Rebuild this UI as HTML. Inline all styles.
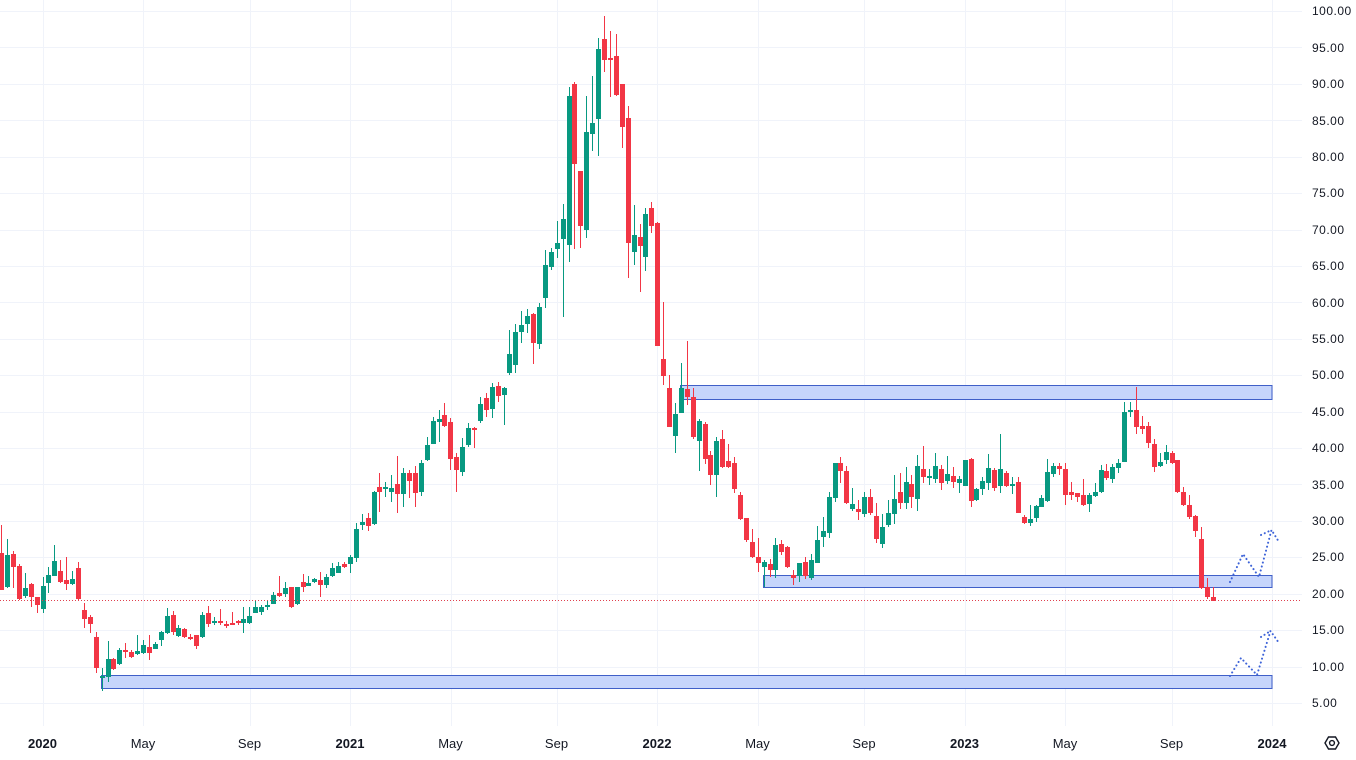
<!DOCTYPE html>
<html>
<head>
<meta charset="utf-8">
<style>
html,body{margin:0;padding:0;background:#ffffff;}
svg{display:block;}
.pl{font-family:"Liberation Sans",sans-serif;font-size:12px;letter-spacing:0.5px;fill:#131722;}
.tl{font-family:"Liberation Sans",sans-serif;font-size:13px;fill:#131722;}
.ty{font-family:"Liberation Sans",sans-serif;font-size:13px;font-weight:bold;fill:#131722;}
</style>
</head>
<body>
<svg id="c" width="1356" height="760" viewBox="0 0 1356 760" xmlns="http://www.w3.org/2000/svg">
<rect x="0" y="0" width="1356" height="760" fill="#ffffff"/>
<g id="grid" stroke="#f0f3fa" stroke-width="1" shape-rendering="crispEdges"></g>
<g fill="#c6d5fb" stroke="#3f5fc8" stroke-width="1" shape-rendering="crispEdges">
<rect x="101.5" y="675.5" width="1170.5" height="13"/>
<rect x="680.5" y="385.5" width="591.5" height="14"/>
<rect x="763.5" y="575.5" width="508.5" height="12"/>
</g>
<g id="candles" shape-rendering="crispEdges"></g>
<line x1="0" y1="600.5" x2="1302" y2="600.5" stroke="#e0404f" stroke-width="1" stroke-dasharray="1 2"/>
<g fill="none" stroke="#3d63d8" stroke-width="2" stroke-dasharray="0.1 4" stroke-linecap="round" stroke-linejoin="round">
<polyline points="1230,582 1243,554 1259,577 1271.5,530 1279,542"/>
<polyline points="1261,535 1271.5,530"/>
<polyline points="1230,676 1241,658 1257,675 1270.5,631 1279,643"/>
<polyline points="1261,637 1270.5,631"/>
</g>
<g class="pl">
<text x="1312" y="15">100.00</text>
<text x="1312" y="52">95.00</text>
<text x="1312" y="88">90.00</text>
<text x="1312" y="125">85.00</text>
<text x="1312" y="161">80.00</text>
<text x="1312" y="197">75.00</text>
<text x="1312" y="234">70.00</text>
<text x="1312" y="270">65.00</text>
<text x="1312" y="307">60.00</text>
<text x="1312" y="343">55.00</text>
<text x="1312" y="379">50.00</text>
<text x="1312" y="416">45.00</text>
<text x="1312" y="452">40.00</text>
<text x="1312" y="489">35.00</text>
<text x="1312" y="525">30.00</text>
<text x="1312" y="561">25.00</text>
<text x="1312" y="598">20.00</text>
<text x="1312" y="634">15.00</text>
<text x="1312" y="671">10.00</text>
<text x="1312" y="707">5.00</text>
</g>
<g text-anchor="middle">
<text class="ty" x="42.5" y="748">2020</text>
<text class="tl" x="143" y="748">May</text>
<text class="tl" x="249.5" y="748">Sep</text>
<text class="ty" x="350" y="748">2021</text>
<text class="tl" x="450.5" y="748">May</text>
<text class="tl" x="556.5" y="748">Sep</text>
<text class="ty" x="657" y="748">2022</text>
<text class="tl" x="757.5" y="748">May</text>
<text class="tl" x="864" y="748">Sep</text>
<text class="ty" x="964.5" y="748">2023</text>
<text class="tl" x="1065" y="748">May</text>
<text class="tl" x="1171.5" y="748">Sep</text>
<text class="ty" x="1272" y="748">2024</text>
</g>
<g fill="none" stroke="#131722" stroke-width="1.4">
<polygon points="1325,743 1328.5,737 1335.5,737 1339,743 1335.5,749 1328.5,749"/>
<circle cx="1332" cy="743" r="2.4"/>
</g>
</svg>
<script>
(function(){
var NS="http://www.w3.org/2000/svg";
var grid=document.getElementById("grid");
function ln(x1,y1,x2,y2){var l=document.createElementNS(NS,"line");l.setAttribute("x1",x1);l.setAttribute("y1",y1);l.setAttribute("x2",x2);l.setAttribute("y2",y2);grid.appendChild(l);}
for(var p=100;p>=5;p-=5){var y=Math.round(11+(100-p)*7.284)+0.5;ln(0,y,1302,y);}
var vx=[42.5,143,249.5,350,450.5,556.5,657,757.5,864,964.5,1065,1171.5,1272];
for(var i=0;i<vx.length;i++){var x=Math.round(vx[i])+0.5;ln(x,0,x,726);}
var D=[
[0,553,590,525,590],[1,555,587,539,588],[0,554,567,551,588],[0,566,599,564,600],[1,588,596,573,598],
[0,584,597,583,607],[0,597,605,597,613],[1,586,609,577,613],[1,575,583,567,593],[1,561,576,545,576],
[0,571,582,560,583],[0,580,584,557,590],[1,579,584,571,585],[0,568,599,562,600],[0,610,619,603,628],
[0,617,624,615,633],[0,637,668,632,673],[1,676,677,668,691],[1,659,677,641,682],[0,659,669,658,670],
[1,650,664,648,665],[0,650,651,643,658],[0,652,657,650,658],[1,651,654,635,655],[1,645,653,640,654],
[0,647,653,635,660],[1,644,649,642,649],[1,632,640,631,646],[1,616,633,608,634],[0,615,632,611,635],
[1,628,636,625,637],[0,629,637,628,638],[0,637,638,634,640],[0,635,646,635,649],[1,615,637,612,638],
[0,613,624,606,627],[1,621,623,617,625],[0,621,623,609,625],[0,624,625,621,628],[0,623,624,612,625],
[0,621,623,620,625],[1,619,623,607,633],[1,616,623,607,624],[1,607,613,600,613],[1,607,612,605,615],
[1,605,607,600,610],[1,595,604,592,604],[0,593,596,576,597],[1,588,594,582,597],[0,587,607,587,608],
[1,587,604,587,605],[0,582,587,574,592],[1,583,586,576,586],[1,579,582,578,583],[0,580,585,572,597],
[1,577,585,574,588],[1,568,576,563,577],[1,566,573,562,573],[0,564,567,562,568],[1,557,564,555,573],
[1,529,558,523,562],[1,522,525,514,530],[0,518,526,513,531],[1,492,524,491,525],[0,487,492,473,512],
[1,487,489,482,497],[1,488,492,475,502],[0,484,494,456,513],[1,473,494,468,507],[0,473,481,470,498],
[0,473,493,466,507],[1,463,492,460,496],[1,445,460,437,461],[1,421,444,417,444],[1,419,422,410,442],
[0,415,426,403,427],[0,422,459,418,470],[0,457,470,453,492],[1,447,472,438,476],[1,428,445,423,447],
[0,428,429,427,448],[1,404,421,397,423],[0,398,410,393,417],[1,387,409,383,418],[0,386,396,382,402],
[1,388,395,387,425],[1,354,373,330,375],[1,332,365,324,373],[1,325,332,311,343],[1,316,324,309,333],
[0,314,343,313,364],[1,307,344,303,349],[1,265,298,250,308],[1,252,267,248,270],[1,243,249,221,258],
[1,219,239,204,317],[1,96,245,87,262],[0,84,164,82,249],[0,171,226,171,248],[1,132,230,96,238],
[1,123,134,76,151],[1,49,119,38,156],[0,39,60,16,72],[0,58,59,31,97],[0,56,95,34,96],
[0,84,127,84,148],[0,118,243,106,278],[1,235,252,205,265],[0,237,246,224,292],[1,214,257,208,271],
[0,208,226,202,233],[0,223,346,222,346],[0,359,376,302,385],[0,388,427,375,427],[1,414,436,403,453],
[1,388,413,363,413],[0,389,397,341,405],[0,397,437,388,439],[1,421,441,419,471],[0,424,459,422,464],
[0,455,475,451,485],[1,441,475,437,497],[0,439,467,430,468],[0,461,467,444,468],[0,463,489,457,493],
[0,495,519,492,520],[0,518,540,518,542],[0,542,557,529,558],[0,557,563,538,572],[1,562,567,560,587],
[0,564,570,559,577],[1,545,570,538,578],[0,544,552,540,555],[0,547,567,546,568],[0,575,578,570,585],
[1,563,576,563,582],[0,562,576,557,579],[1,560,578,554,580],[1,540,563,526,563],[1,531,537,517,547],
[1,497,533,492,538],[1,463,498,463,502],[0,463,471,457,483],[0,471,503,466,504],[1,504,509,488,511],
[0,509,512,500,520],[1,497,514,492,517],[0,497,513,489,515],[0,516,539,503,543],[1,527,544,514,548],
[1,513,525,500,527],[1,499,514,475,524],[0,492,503,473,509],[1,482,503,467,509],[0,484,497,475,508],
[1,466,499,455,511],[0,469,477,446,483],[1,476,478,469,485],[1,466,479,453,483],[0,469,483,465,490],
[1,474,481,456,484],[0,476,482,467,488],[1,479,483,476,493],[1,460,486,460,486],[0,459,501,458,507],
[1,489,500,488,501],[1,481,489,477,495],[1,468,483,454,490],[0,470,488,468,491],[1,469,486,434,493],
[0,473,486,471,487],[1,484,485,477,494],[0,482,513,477,513],[0,517,523,515,524],[1,519,523,505,526],
[1,506,518,505,522],[1,498,507,495,507],[1,472,501,459,502],[1,466,474,463,477],[0,466,469,463,475],
[0,469,495,463,505],[0,492,495,482,500],[0,493,497,493,502],[0,495,505,479,506],[1,495,504,493,512],
[1,492,496,483,497],[1,470,492,465,493],[0,471,478,464,480],[1,467,479,464,483],[1,463,468,459,473],
[1,412,462,402,462],[1,410,411,402,417],[0,410,427,387,434],[0,426,429,416,434],[0,426,443,422,448],
[0,444,467,439,472],[1,462,466,453,467],[1,452,460,445,464],[0,453,463,451,464],[0,460,492,460,493],
[0,492,505,487,506],[0,505,517,495,519],[0,516,531,515,537],[0,539,588,527,589],[0,587,597,578,599],
[0,597,601,587,601]
];
var g=document.getElementById("candles");
for(var k=0;k<D.length;k++){
var d=D[k];var cx=Math.round(42.5+(k-7)*5.911);var col=d[0]?"#089981":"#f23645";
var w=document.createElementNS(NS,"rect");
w.setAttribute("x",cx);w.setAttribute("y",d[3]);
w.setAttribute("width",1);w.setAttribute("height",Math.max(1,d[4]-d[3]));w.setAttribute("fill",col);g.appendChild(w);
var b=document.createElementNS(NS,"rect");
b.setAttribute("x",cx-2);b.setAttribute("y",d[1]);
b.setAttribute("width",5);b.setAttribute("height",Math.max(2,d[2]-d[1]));b.setAttribute("fill",col);g.appendChild(b);
}
})();
</script>
</body>
</html>
